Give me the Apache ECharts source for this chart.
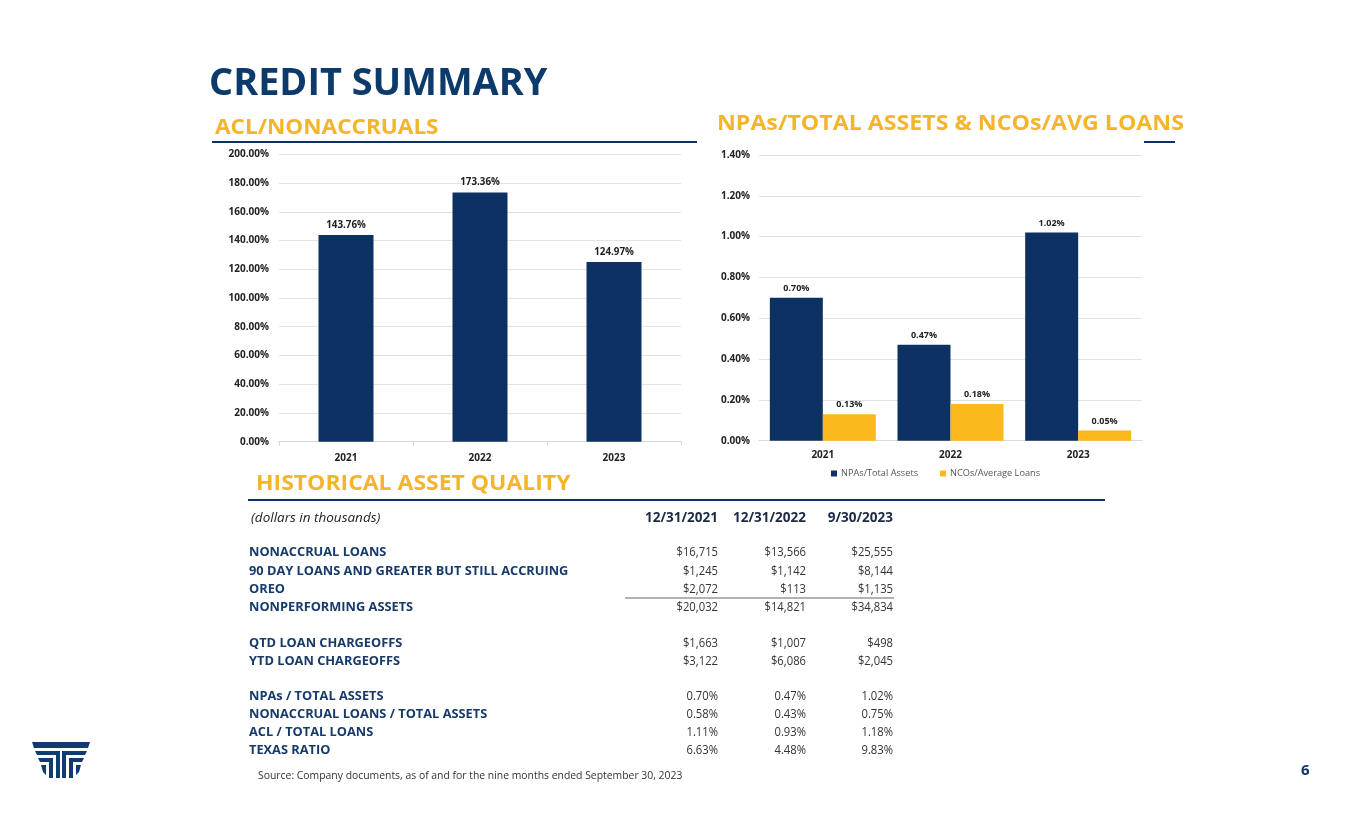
<!DOCTYPE html>
<html>
<head>
<meta charset="utf-8">
<script src="https://cdn.jsdelivr.net/npm/echarts@6/dist/echarts.min.js"></script>
<style>
html,body{margin:0;padding:0;background:#fff;}
#c{width:1365px;height:829px;}
</style>
</head>
<body>
<div id="c"></div>
<script>
// ---- data ----
const years = ['2021', '2022', '2023'];
const aclNonaccruals = [143.76, 173.36, 124.97];
const npaTotalAssets = [0.70, 0.47, 1.02];
const ncoAvgLoans = [0.13, 0.18, 0.05];
const legendNames = ['NPAs/Total Assets', 'NCOs/Average Loans'];

const tableHeaders = ['12/31/2021', '12/31/2022', '9/30/2023'];
const tableLabels = [
  'NONACCRUAL LOANS',
  '90 DAY LOANS AND GREATER BUT STILL ACCRUING',
  'OREO',
  'NONPERFORMING ASSETS',
  'QTD LOAN CHARGEOFFS',
  'YTD LOAN CHARGEOFFS',
  'NPAs / TOTAL ASSETS',
  'NONACCRUAL LOANS / TOTAL ASSETS',
  'ACL / TOTAL LOANS',
  'TEXAS RATIO'
];
const col2021 = ['$16,715', '$1,245', '$2,072', '$20,032', '$1,663', '$3,122', '0.70%', '0.58%', '1.11%', '6.63%'];
const col2022 = ['$13,566', '$1,142', '$113', '$14,821', '$1,007', '$6,086', '0.47%', '0.43%', '0.93%', '4.48%'];
const col2023 = ['$25,555', '$8,144', '$1,135', '$34,834', '$498', '$2,045', '1.02%', '0.75%', '1.18%', '9.83%'];

// ---- styles ----
const NAVY = '#0c3264';
const TITLE_NAVY = '#0b3a6b';
const GOLD = '#f5b52a';
const BAR_YELLOW = '#fbb81c';
const FONT = '"Open Sans", "Liberation Sans", sans-serif';

const chart = echarts.init(document.getElementById('c'), null, {renderer: 'canvas'});

function txt(x, y, text, font, fill, align, sx) {
  return {type: 'text', x: x, y: y, scaleX: sx || 1, silent: true,
    style: {text: text, font: font, fill: fill, align: align || 'left', verticalAlign: 'middle',
            textAlign: align || 'left', textVerticalAlign: 'middle'}};
}

const graphics = [];
// titles
graphics.push(txt(209, 84, 'CREDIT SUMMARY', 'bold 37.5px ' + FONT, TITLE_NAVY, 'left', 1.01));
graphics.push(txt(215, 128.5, 'ACL/NONACCRUALS', 'bold 20.5px ' + FONT, GOLD, 'left', 1.1));
graphics.push(txt(717, 124.5, 'NPAs/TOTAL ASSETS & NCOs/AVG LOANS', 'bold 20.5px ' + FONT, GOLD, 'left', 1.13));
graphics.push(txt(256, 484, 'HISTORICAL ASSET QUALITY', 'bold 20.5px ' + FONT, GOLD, 'left', 1.12));
// rules
graphics.push({type: 'line', silent: true, shape: {x1: 212, y1: 142, x2: 697, y2: 142}, style: {stroke: NAVY, lineWidth: 2}});
graphics.push({type: 'line', silent: true, shape: {x1: 1144, y1: 142, x2: 1175, y2: 142}, style: {stroke: NAVY, lineWidth: 2}});
graphics.push({type: 'line', silent: true, shape: {x1: 248, y1: 500, x2: 1105, y2: 500}, style: {stroke: NAVY, lineWidth: 2}});

// table
const colX = [718, 806, 893];
const rowY = [552, 571, 589, 607, 643, 661, 696, 714, 732, 750];
const cols = [col2021, col2022, col2023];
graphics.push(txt(251, 518, '(dollars in thousands)', 'italic 13.5px ' + FONT, '#222'));
tableHeaders.forEach((h, i) => graphics.push(txt(colX[i], 518, h, 'bold 13.5px ' + FONT, '#1c2a44', 'right')));
tableLabels.forEach((l, r) => {
  graphics.push(txt(249, rowY[r], l, 'bold 12.8px ' + FONT, '#163a6a'));
  cols.forEach((c, i) => graphics.push(txt(colX[i], rowY[r], c[r], '12.5px ' + FONT, '#333', 'right', 0.9)));
});
graphics.push({type: 'line', silent: true, shape: {x1: 625, y1: 598, x2: 894, y2: 598}, style: {stroke: '#666', lineWidth: 1}});
graphics.push(txt(258, 776, 'Source: Company documents, as of and for the nine months ended September 30, 2023', '10.4px ' + FONT, '#333'));
graphics.push(txt(1301, 771, '6', 'bold 15px ' + FONT, TITLE_NAVY));

// logo (approximate emblem)
const LOGO_C = 122; // mirror axis *2
const leftLogo = [
  [[32,742],[61,742],[61,748],[34,748]],
  [[35,751],[60,751],[60,778],[56,778],[56,755],[37,755]],
  [[38,758],[53,758],[53,778],[49,778],[49,762],[40,762]],
  [[41,765],[46,765],[46,775],[43,772]]
];
const logoPolys = [];
leftLogo.forEach(p => {
  logoPolys.push(p);
  logoPolys.push(p.map(pt => [LOGO_C - pt[0], pt[1]]));
});
logoPolys.forEach(p => graphics.push({type: 'polygon', silent: true, shape: {points: p}, style: {fill: '#123a72'}}));

const axisLabelStyle = {color: '#222', fontFamily: FONT, fontWeight: 'bold', fontSize: 10};

const option = {
  backgroundColor: '#fff',
  animation: false,
  grid: [
    {left: 279, top: 154.3, width: 402, height: 287.4},
    {left: 759, top: 155, width: 383, height: 285.7}
  ],
  legend: {
    data: legendNames,
    left: 826, top: 464,
    itemWidth: 6, itemHeight: 6, itemGap: 22, icon: 'rect',
    textStyle: {color: '#555', fontFamily: FONT, fontSize: 9.2, padding: [0, 0, 0, -1]}
  },
  xAxis: [
    {type: 'category', gridIndex: 0, data: years,
      axisLine: {lineStyle: {color: '#d9d9d9'}},
      axisTick: {show: true, length: 4, lineStyle: {color: '#d9d9d9'}},
      axisLabel: Object.assign({}, axisLabelStyle, {margin: 11})},
    {type: 'category', gridIndex: 1, data: years,
      axisLine: {lineStyle: {color: '#d9d9d9'}},
      axisTick: {show: false},
      axisLabel: Object.assign({}, axisLabelStyle, {margin: 9})}
  ],
  yAxis: [
    {type: 'value', gridIndex: 0, min: 0, max: 200, interval: 20,
      axisLine: {show: false}, axisTick: {show: false},
      splitLine: {lineStyle: {color: '#e3e3e3'}},
      axisLabel: Object.assign({}, axisLabelStyle, {margin: 10, formatter: v => v.toFixed(2) + '%'})},
    {type: 'value', gridIndex: 1, min: 0, max: 1.4, interval: 0.2,
      axisLine: {show: false}, axisTick: {show: false},
      splitLine: {lineStyle: {color: '#e3e3e3'}},
      axisLabel: Object.assign({}, axisLabelStyle, {margin: 9, formatter: v => v.toFixed(2) + '%'})}
  ],
  series: [
    {type: 'bar', name: 'ACL/Nonaccruals', xAxisIndex: 0, yAxisIndex: 0, data: aclNonaccruals,
      barWidth: 55, itemStyle: {color: NAVY},
      label: {show: true, position: 'top', distance: 5, formatter: p => p.value.toFixed(2) + '%',
        color: '#222', fontFamily: FONT, fontWeight: 'bold', fontSize: 9.8}},
    {type: 'bar', name: legendNames[0], xAxisIndex: 1, yAxisIndex: 1, data: npaTotalAssets,
      barWidth: 53, barGap: '0%', itemStyle: {color: NAVY},
      label: {show: true, position: 'top', distance: 5, formatter: p => p.value.toFixed(2) + '%',
        color: '#222', fontFamily: FONT, fontWeight: 'bold', fontSize: 9}},
    {type: 'bar', name: legendNames[1], xAxisIndex: 1, yAxisIndex: 1, data: ncoAvgLoans,
      barWidth: 53, barGap: '0%', itemStyle: {color: BAR_YELLOW},
      label: {show: true, position: 'top', distance: 5, formatter: p => p.value.toFixed(2) + '%',
        color: '#222', fontFamily: FONT, fontWeight: 'bold', fontSize: 9}}
  ],
  graphic: graphics
};
chart.setOption(option);
</script>
</body>
</html>
